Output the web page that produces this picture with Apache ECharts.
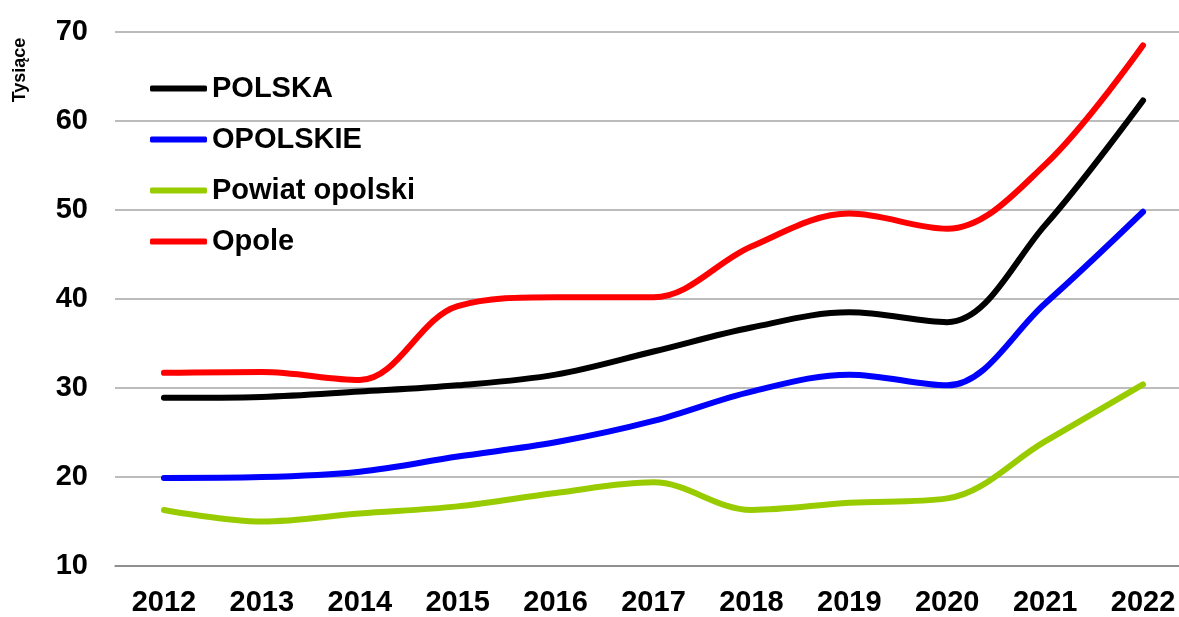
<!DOCTYPE html>
<html>
<head>
<meta charset="utf-8">
<script src="https://cdn.jsdelivr.net/npm/echarts@6/dist/echarts.min.js"></script>
<style>
  html, body { margin: 0; padding: 0; background: #fff; overflow: hidden; }
  /* plot runs past the right edge of the window, like the original */
  #chart { width: 1192px; height: 617px; }
</style>
</head>
<body>
<div id="chart"></div>
<script>
const years = ['2012', '2013', '2014', '2015', '2016', '2017', '2018', '2019', '2020', '2021', '2022'];
const polska = [28.9, 29.0, 29.6, 30.3, 31.5, 34.1, 36.8, 38.5, 37.4, 48.3, 62.3];
const opolskie = [19.9, 20.0, 20.6, 22.3, 23.9, 26.3, 29.6, 31.5, 30.3, 39.5, 49.8];
const powiat = [16.3, 15.0, 15.9, 16.7, 18.2, 19.4, 16.3, 17.1, 17.6, 24.0, 30.4];
const opole = [31.7, 31.8, 30.9, 39.2, 40.2, 40.2, 45.9, 49.6, 47.9, 55.1, 68.5];

const font = 'Liberation Sans, Arial, sans-serif';

function makeLine(name, data, color) {
  return {
    name: name,
    type: 'line',
    data: data,
    smooth: 0.35,
    symbol: 'none',
    lineStyle: { color: color, width: 6, cap: 'round' },
    itemStyle: { color: color },
  };
}

const myChart = echarts.init(document.getElementById('chart'));
const option = {
  animation: false,
  grid: { left: 115, right: 0, top: 32, bottom: 51 },
  graphic: [
    {
      type: 'text',
      x: 20,
      y: 70,
      rotation: Math.PI / 2,
      style: {
        text: 'Tysiące',
        font: 'bold 18px ' + font,
        fill: '#000',
        align: 'center',
        verticalAlign: 'middle',
      },
    },
  ],
  legend: {
    orient: 'vertical',
    left: 145,
    top: 69,
    itemWidth: 57,
    itemHeight: 6,
    itemGap: 22,
    icon: 'roundRect',
    textStyle: { fontFamily: font, fontWeight: 'bold', fontSize: 29, color: '#000', lineHeight: 29 },
    data: ['POLSKA', 'OPOLSKIE', 'Powiat opolski', 'Opole'],
  },
  xAxis: {
    type: 'category',
    data: years,
    boundaryGap: true,
    axisTick: { show: false },
    axisLine: { lineStyle: { color: '#808080', width: 1.5 } },
    axisLabel: { fontFamily: font, fontWeight: 'bold', fontSize: 29, color: '#000', margin: 22 },
  },
  yAxis: {
    type: 'value',
    min: 10,
    max: 70,
    interval: 10,
    axisLine: { show: false },
    axisTick: { show: false },
    splitLine: { lineStyle: { color: '#a6a6a6', width: 1.5 } },
    axisLabel: { fontFamily: font, fontWeight: 'bold', fontSize: 29, color: '#000', margin: 27 },
  },
  series: [
    makeLine('POLSKA', polska, '#000000'),
    makeLine('OPOLSKIE', opolskie, '#0000ff'),
    makeLine('Powiat opolski', powiat, '#99cc00'),
    makeLine('Opole', opole, '#ff0000'),
  ],
};
myChart.setOption(option);
</script>
</body>
</html>
